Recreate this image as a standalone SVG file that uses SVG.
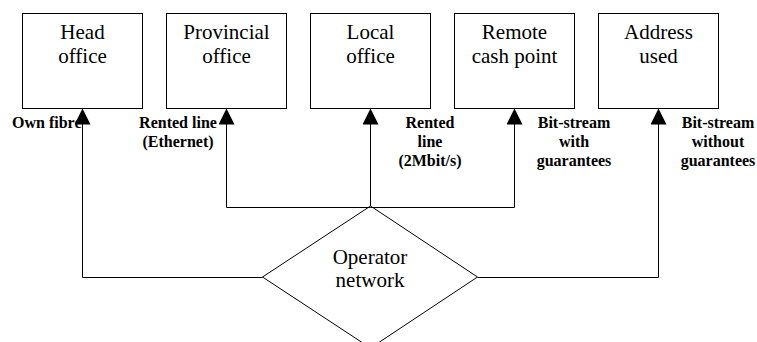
<svg xmlns="http://www.w3.org/2000/svg" width="757" height="342" viewBox="0 0 757 342">
<style>
.box{fill:#fff;stroke:#000;stroke-width:1}
.t{font-family:'Liberation Serif','Times New Roman',Times,'DejaVu Serif',serif;font-size:21px;text-anchor:middle;fill:#000}
.l{font-family:'Liberation Serif','Times New Roman',Times,'DejaVu Serif',serif;font-size:16px;font-weight:bold;text-anchor:middle;fill:#000}
.c{fill:none;stroke:#000;stroke-width:1}
</style>
<defs>
<marker id="ah" viewBox="0 0 16 16" refX="16" refY="8" markerWidth="16" markerHeight="16" markerUnits="userSpaceOnUse" orient="auto">
<path d="M0,0 L16,8 L0,16 z" fill="#000"/>
</marker>
</defs>
<rect width="757" height="342" fill="#fff"/>
<g id="head">
<rect class="box" x="22.5" y="13.5" width="120" height="95"/>
<text class="t" x="82.5" y="39">Head</text>
<text class="t" x="82.5" y="63">office</text>
</g>
<g id="provincial">
<rect class="box" x="166.5" y="13.5" width="120" height="95"/>
<text class="t" x="226.5" y="39">Provincial</text>
<text class="t" x="226.5" y="63">office</text>
</g>
<g id="local">
<rect class="box" x="310.5" y="13.5" width="120" height="95"/>
<text class="t" x="370.5" y="39">Local</text>
<text class="t" x="370.5" y="63">office</text>
</g>
<g id="remote">
<rect class="box" x="454.5" y="13.5" width="120" height="95"/>
<text class="t" x="514.5" y="39">Remote</text>
<text class="t" x="514.5" y="63">cash point</text>
</g>
<g id="address">
<rect class="box" x="598.5" y="13.5" width="120" height="95"/>
<text class="t" x="658.5" y="39">Address</text>
<text class="t" x="658.5" y="63">used</text>
</g>
<g id="operator">
<polygon class="box" points="370.5,206 477.5,277 370.5,348 262.5,277"/>
<text class="t" x="370" y="264">Operator</text>
<text class="t" x="370" y="287">network</text>
</g>
<g id="labels">
<text class="l" x="12" y="128" style="text-anchor:start">Own fibre</text>
<text class="l" x="178" y="128">Rented line</text>
<text class="l" x="178" y="147">(Ethernet)</text>
<text class="l" x="430" y="128">Rented</text>
<text class="l" x="430" y="147">line</text>
<text class="l" x="430" y="166">(2Mbit/s)</text>
<text class="l" x="574" y="128">Bit-stream</text>
<text class="l" x="574" y="147">with</text>
<text class="l" x="574" y="166">guarantees</text>
<text class="l" x="718" y="128">Bit-stream</text>
<text class="l" x="718" y="147">without</text>
<text class="l" x="718" y="166">guarantees</text>
</g>
<g id="connectors">
<path class="c" d="M262.5,277.5 H82.5 V108.5" marker-end="url(#ah)"/>
<path class="c" d="M370.5,207.5 H226.5 V108.5" marker-end="url(#ah)"/>
<path class="c" d="M370.5,206 V108.5" marker-end="url(#ah)"/>
<path class="c" d="M370.5,207.5 H514.5 V108.5" marker-end="url(#ah)"/>
<path class="c" d="M477.5,277.5 H658.5 V108.5" marker-end="url(#ah)"/>
</g>
</svg>
